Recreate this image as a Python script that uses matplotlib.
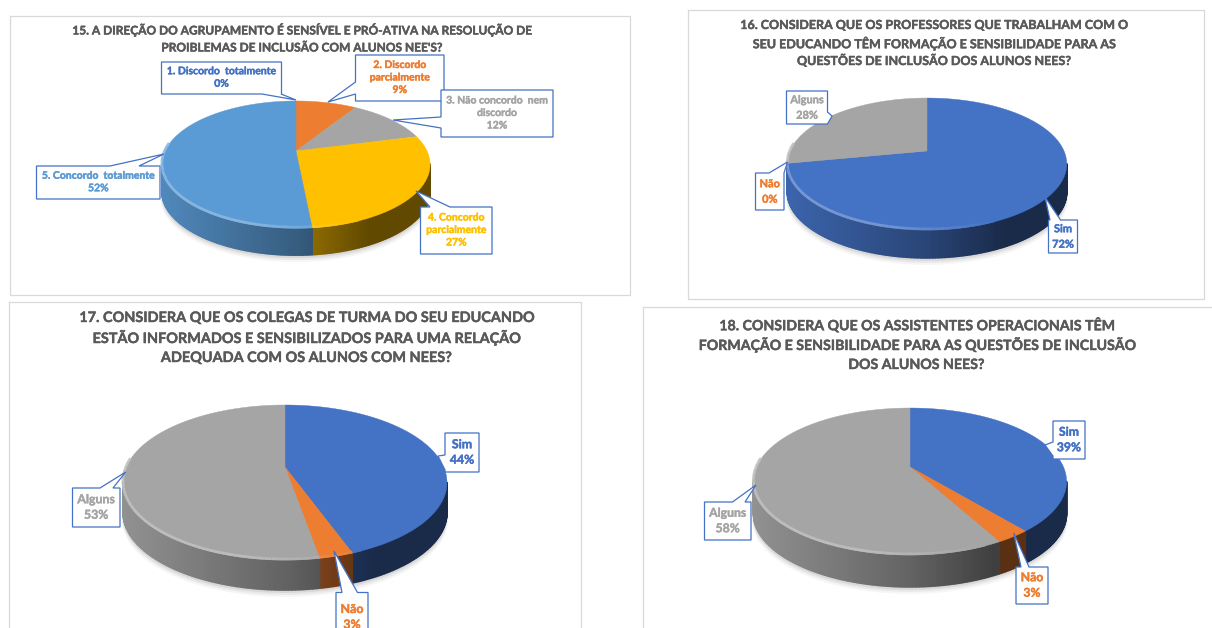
import numpy as np
import matplotlib
matplotlib.use("Agg")
import matplotlib.pyplot as plt
import matplotlib.patheffects as pe
from matplotlib.collections import PolyCollection, LineCollection
from matplotlib.colors import to_rgb
from matplotlib.patches import Polygon

plt.rcParams['font.family'] = ['Lato', 'DejaVu Sans']

# --- Data ---
titles_15 = ["15. A DIREÇÃO DO AGRUPAMENTO É SENSÍVEL E PRÓ-ATIVA NA RESOLUÇÃO DE",
             "PROIBLEMAS DE INCLUSÃO COM ALUNOS NEE'S?"]
titles_16 = ["16. CONSIDERA QUE OS PROFESSORES QUE TRABALHAM COM O",
             "SEU EDUCANDO TÊM FORMAÇÃO E SENSIBILIDADE PARA AS",
             "QUESTÕES DE INCLUSÃO DOS ALUNOS NEES?"]
titles_17 = ["17. CONSIDERA QUE OS COLEGAS DE TURMA DO SEU EDUCANDO",
             "ESTÃO INFORMADOS E SENSIBILIZADOS PARA UMA RELAÇÃO",
             "ADEQUADA COM OS ALUNOS COM NEES?"]
titles_18 = ["18. CONSIDERA QUE OS ASSISTENTES OPERACIONAIS TÊM",
             "FORMAÇÃO E SENSIBILIDADE PARA AS QUESTÕES DE INCLUSÃO",
             "DOS ALUNOS NEES?"]

labels_15 = [["1. Discordo  totalmente"], ["2. Discordo", "parcialmente"],
             ["3. Não concordo  nem", "discordo"], ["4. Concordo", "parcialmente"],
             ["5. Concordo  totalmente"]]
labels_yes_no = [["Sim"], ["Não"], ["Alguns"]]

# the printed labels are rounded, the slices show a bit more precision
values_15 = [0, 9, 12, 27.45, 51.55]
values_16 = [72, 0, 28]
values_17 = [44.4, 2.8, 52.8]
values_18 = [39, 3, 58]

colors_15 = ["#4472C4", "#ED7D31", "#A5A5A5", "#FFC000", "#5B9BD5"]
colors_yes_no = ["#4472C4", "#ED7D31", "#A5A5A5"]

# --- Layout, all in pixels of the 1212x628 picture ---
# frame: x0, y0, x1, y1
# pie: centre x, apex y, x scale, y scale, perspective, depth
# boxes: x0, y0, x1, y1, side of the pointer, base start, base end, tip x, tip y
panel_15 = dict(frame=(9.5, 15.5, 629.5, 294.5), title_x=302, title_y=[30, 48], title_size=8.6,
                pie=(296, 151, 131, 60.7, 0.2135, 27), label_size=7.5,
                boxes=[(161.5, 62, 281.5, 94, 'b', 262, 281, 296, 100),
                       (355.5, 55, 444, 101, 'l', 82, 94, 328, 102),
                       (441, 90, 553, 137, 'l', 117, 128, 393, 120),
                       (420.5, 207, 492, 254, 't', 430, 450, 416, 191),
                       (36.5, 166, 160, 199, 't', 110, 139, 164, 154)])
panel_16 = dict(frame=(687.5, 9.5, 1203.5, 298.5), title_x=934, title_y=[25, 43, 60], title_size=9.0,
                pie=(927, 151, 137, 63.4, 0.197, 28), label_size=7.9,
                boxes=[(1048.5, 220, 1077.5, 253, 't', 1050, 1060.5, 1045, 197),
                       (755.5, 173, 784, 210, 't', 769, 784, 787.5, 162),
                       (786.5, 91, 827.5, 124, 'r', 112, 124, 832, 116)])
panel_17 = dict(frame=(8.5, 301.5, 580.5, 640), title_x=305, title_y=[318, 338, 358], title_size=10.4,
                pie=(285, 467, 158.7, 74.4, 0.2, 30), label_size=8.9,
                boxes=[(445, 433, 479, 472, 'l', 455, 470, 438, 456),
                       (336, 592.5, 368, 645, 't', 342, 357.5, 334, 551),
                       (72.5, 488, 120, 527, 't', 100, 113, 125.7, 472)])
panel_18 = dict(frame=(642.5, 306.5, 1230, 640), title_x=916, title_y=[325, 345, 365], title_size=10.2,
                pie=(910, 467, 153.5, 70.6, 0.197, 32), label_size=8.8,
                boxes=[(1053, 421, 1085, 459, 'l', 442, 456, 1045, 445),
                       (1016, 567, 1048, 604, 't', 1021, 1029, 1013.7, 533),
                       (704.5, 502, 751, 540, 't', 732.5, 745, 756, 485)])


def project(theta, pie):
    # theta in radians, clockwise from 12 o'clock
    cx, apex, sx, sy, k, depth = pie
    xx, yy = np.sin(theta), np.cos(theta)
    f = 1 / (1 + k * yy)
    return cx + sx * xx * f, apex - sy * yy * f


def wall_shade(x, pie):
    # side of the pie goes dark from left to right
    cx, apex, sx, sy, k, depth = pie
    return np.interp((x - cx) / sx, [-1.02, 0, 0.55, 1.02], [0.88, 0.60, 0.38, 0.38])


def draw_pie(ax, values, colors, pie):
    cx, apex, sx, sy, k, depth = pie

    # soft shadow under the pie
    ring_x, ring_y = project(np.radians(np.arange(0, 361, 3)), pie)
    for grow, alpha in zip([7, 5, 3, 1], [0.035, 0.05, 0.07, 0.09]):
        ax.add_patch(Polygon(np.c_[cx + (ring_x - cx) * (1 + grow / sx / 6), ring_y + depth + grow],
                             closed=True, fc='black', ec='none', alpha=alpha, zorder=1))

    edges = np.radians(np.cumsum([0] + values) * 3.6)
    for start, end, color in zip(edges[:-1], edges[1:], colors):
        if end <= start:
            continue
        theta = np.linspace(start, end, max(int(np.degrees(end - start)), 2) + 1)
        x, y = project(theta, pie)
        base = np.array(to_rgb(color))

        # side wall, one thin quad per step, only where it faces the viewer
        quads, quad_colors = [], []
        for i in range(len(x) - 1):
            if np.cos(theta[i]) > -k and np.cos(theta[i + 1]) > -k:
                continue
            quads.append([(x[i], y[i]), (x[i + 1], y[i + 1]),
                          (x[i + 1], y[i + 1] + depth), (x[i], y[i] + depth)])
            quad_colors.append(base * wall_shade((x[i] + x[i + 1]) / 2, pie))
        ax.add_collection(PolyCollection(quads, facecolors=quad_colors, edgecolors=quad_colors,
                                         linewidths=1.1, zorder=2))

    for start, end, color in zip(edges[:-1], edges[1:], colors):
        if end <= start:
            continue
        theta = np.linspace(start, end, max(int(np.degrees(end - start)), 2) + 1)
        x, y = project(theta, pie)
        ax.add_patch(Polygon(np.c_[np.r_[cx, x], np.r_[apex, y]], closed=True,
                             fc=color, ec=color, lw=0.3, zorder=3))

        # bevel along the near edge of the top face
        base = np.array(to_rgb(color))
        segs, seg_colors = [], []
        for i in range(len(x) - 1):
            amount = np.interp((x[i] - cx) / sx, [-1.02, -0.3, 0.5], [0.30, 0.26, 0.0])
            if np.cos(theta[i]) < 0.1 and amount > 0:
                segs.append([(x[i], y[i] - 1.0), (x[i + 1], y[i + 1] - 1.0)])
                seg_colors.append(base + (1 - base) * amount)
        ax.add_collection(LineCollection(segs, colors=seg_colors, linewidths=2.0, zorder=4))


def draw_box(ax, box, color, lines, size):
    x0, y0, x1, y1, side, b0, b1, tx, ty = box
    if side == 't':
        pts = [(x0, y0), (b0, y0), (tx, ty), (b1, y0), (x1, y0), (x1, y1), (x0, y1)]
    elif side == 'b':
        pts = [(x0, y0), (x1, y0), (x1, y1), (b1, y1), (tx, ty), (b0, y1), (x0, y1)]
    elif side == 'l':
        pts = [(x0, y0), (x1, y0), (x1, y1), (x0, y1), (x0, b1), (tx, ty), (x0, b0)]
    else:
        pts = [(x0, y0), (x1, y0), (x1, b0), (tx, ty), (x1, b1), (x1, y1), (x0, y1)]
    ax.add_patch(Polygon(pts, closed=True, fc='white', ec='#4472C4', lw=0.9, zorder=5))
    t = ax.text((x0 + x1) / 2, (y0 + min(y1, 628 + 14)) / 2, "\n".join(lines), color=color, fontsize=size,
                fontweight='bold', ha='center', va='center', linespacing=1.5, zorder=6)
    t.set_path_effects([pe.withStroke(linewidth=0.3, foreground=color)])


fig = plt.figure(figsize=(12.12, 6.28), dpi=100)
ax = fig.add_axes([0, 0, 1, 1])
ax.set_xlim(0, 1212)
ax.set_ylim(628, 0)
ax.axis('off')

panels = [(panel_15, titles_15, values_15, colors_15, labels_15),
          (panel_16, titles_16, values_16, colors_yes_no, labels_yes_no),
          (panel_17, titles_17, values_17, colors_yes_no, labels_yes_no),
          (panel_18, titles_18, values_18, colors_yes_no, labels_yes_no)]

for panel, titles, values, colors, labels in panels:
    x0, y0, x1, y1 = panel['frame']
    ax.plot([x0, x1, x1, x0, x0], [y0, y0, y1, y1, y0], color='#D9D9D9', lw=0.9, zorder=0)
    for text, y in zip(titles, panel['title_y']):
        t = ax.text(panel['title_x'], y, text, color='#595959', fontsize=panel['title_size'],
                    fontweight='bold', ha='center', va='center', zorder=6)
        t.set_path_effects([pe.withStroke(linewidth=0.3, foreground='#595959')])
    draw_pie(ax, values, colors, panel['pie'])
    for box, value, color, label in zip(panel['boxes'], values, colors, labels):
        draw_box(ax, box, color, label + [f"{value:.0f}%"], panel['label_size'])

fig.savefig("out.png", dpi=100)
plt.close(fig)
